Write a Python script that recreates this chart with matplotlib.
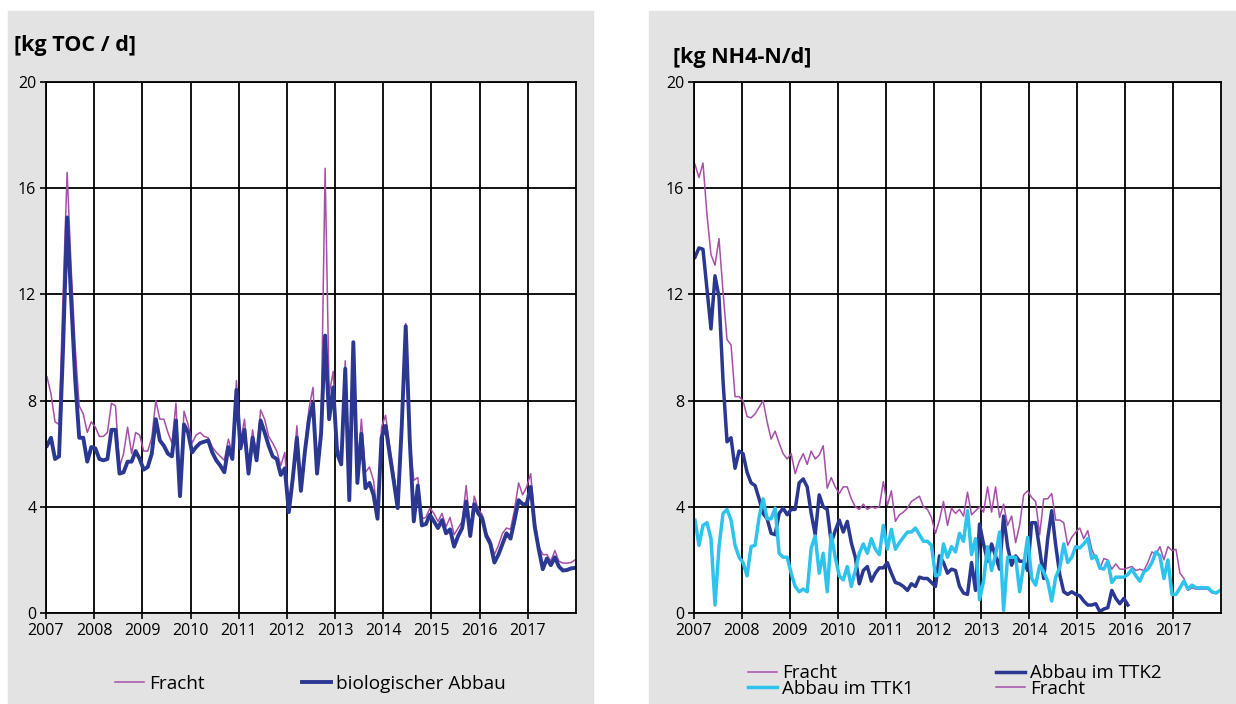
import matplotlib
matplotlib.use("Agg")
import matplotlib.pyplot as plt
from matplotlib.patches import Rectangle
import numpy as np

plt.rcParams['font.family'] = ['Open Sans', 'DejaVu Sans']

# monthly values Jan 2007 .. Dec 2017
toc_fracht = [
    8.9, 8.25, 7.2, 7.1, 12.0, 16.6, 13.0, 10.0, 7.8, 7.5, 6.8, 7.2,
    7.0, 6.65, 6.65, 6.8, 7.9, 7.8, 5.5, 6.0, 7.0, 6.0, 6.8, 6.7,
    6.1, 6.1, 6.6, 8.0, 7.3, 7.3, 6.8, 6.4, 7.9, 4.6, 7.6, 7.1,
    6.4, 6.7, 6.8, 6.65, 6.6, 6.25, 6.05, 5.9, 5.75, 6.55, 6.0, 8.75,
    6.4, 7.3, 5.4, 6.9, 5.9, 7.65, 7.3, 6.65, 6.4, 6.1, 5.55, 6.05,
    3.95, 5.3, 7.05, 4.8, 6.3, 7.7, 8.5, 5.4, 7.0, 16.75, 8.25, 9.1,
    6.25, 5.9, 9.5, 4.4, 10.2, 5.2, 7.3, 5.3, 5.5, 5.0, 3.7, 7.0,
    7.45, 6.3, 5.3, 4.1, 7.2, 10.9, 6.6, 5.0, 5.1, 3.55, 3.6, 3.95,
    3.75, 3.45, 3.75, 3.25, 3.6, 2.95, 3.2, 3.45, 4.8, 3.1, 4.4, 3.9,
    3.7, 3.0, 2.75, 2.2, 2.55, 3.0, 3.2, 3.15, 3.9, 4.9, 4.45, 4.75,
    5.25, 3.5, 2.5, 2.2, 2.2, 1.95, 2.35, 1.95, 1.88, 1.88, 1.9, 2.0,
]
toc_abbau = [
    6.3, 6.6, 5.8, 5.9, 10.0, 14.9, 11.8, 8.8, 6.6, 6.6, 5.7, 6.25,
    6.2, 5.8, 5.75, 5.8, 6.9, 6.9, 5.25, 5.3, 5.7, 5.7, 6.1, 5.8,
    5.4, 5.5, 6.0, 7.3, 6.5, 6.3, 6.0, 5.9, 7.25, 4.4, 7.1, 6.8,
    6.05, 6.25, 6.4, 6.45, 6.5, 6.05, 5.75, 5.55, 5.3, 6.25, 5.8, 8.4,
    6.2, 6.9, 5.25, 6.6, 5.75, 7.25, 6.8, 6.3, 5.9, 5.8, 5.2, 5.45,
    3.8, 5.1, 6.6, 4.6, 6.1, 7.3, 7.9, 5.25, 6.75, 10.45, 7.3, 8.5,
    6.0, 5.6, 9.2, 4.25, 10.2, 4.9, 6.75, 4.7, 4.9, 4.45, 3.55, 6.6,
    7.05, 6.0, 5.0, 3.95, 7.0, 10.8, 6.5, 3.45, 4.8, 3.3, 3.35, 3.7,
    3.45, 3.2, 3.5, 3.0, 3.15, 2.5, 2.9, 3.2, 4.2, 2.9, 4.1, 3.75,
    3.55, 2.9, 2.6, 1.9, 2.2, 2.6, 3.0, 2.8, 3.5, 4.25, 4.1, 4.1,
    4.75, 3.25, 2.4, 1.65, 2.05, 1.8, 2.1, 1.75, 1.6, 1.62, 1.68, 1.7,
]

nh4_fracht = [
    16.9, 16.4, 16.95, 15.0, 13.5, 13.1, 14.1, 12.1, 10.3, 10.1, 8.15, 8.15,
    8.0, 7.4, 7.35, 7.5, 7.75, 8.0, 7.2, 6.55, 6.85, 6.4, 6.0, 5.8,
    6.0, 5.25, 5.7, 6.0, 5.6, 6.1, 5.8, 5.95, 6.3, 4.7, 5.1, 4.75,
    4.5, 4.75, 4.75, 4.3, 4.0, 3.9, 4.1, 3.9, 4.0, 3.95, 4.0, 4.95,
    4.05, 4.6, 3.45, 3.7, 3.8, 3.95, 4.2, 4.3, 4.4, 4.0, 3.9, 3.6,
    3.0, 3.5, 4.2, 3.3, 3.95, 3.75, 3.9, 3.65, 4.55, 3.7, 3.85, 4.0,
    3.8, 4.75, 3.8, 4.75, 3.6, 4.1, 3.3, 3.65, 2.65, 3.3, 4.45, 4.6,
    4.35, 4.2, 2.95, 4.3, 4.3, 4.5, 3.5, 3.5, 3.4, 2.55, 2.85, 3.05,
    3.2, 2.8, 3.1, 2.4, 2.05, 1.65, 2.05, 2.0, 1.65, 1.85, 1.65, 1.65,
    1.7, 1.75, 1.6, 1.65, 1.6, 1.9, 2.3, 2.2, 2.5, 2.0, 2.5, 2.35,
    2.4, 1.5, 1.3, 0.85, 0.95, 0.9, 0.9, 0.9, 0.9, 0.75, 0.78, 0.85,
]
# TTK2 runs Jan 2007 .. Jan 2016
nh4_ttk2 = [
    13.4, 13.75, 13.7, 12.2, 10.7, 12.7, 11.9, 8.75, 6.45, 6.6, 5.45, 6.1,
    6.0, 5.3, 4.9, 4.8, 4.3, 3.75, 3.55, 3.0, 2.95, 3.75, 3.95, 3.7,
    3.9, 3.9, 4.9, 5.05, 4.75, 3.75, 2.95, 4.45, 4.0, 3.9, 2.65, 3.1,
    3.5, 3.05, 3.45, 2.65, 2.1, 1.1, 1.6, 1.75, 1.2, 1.5, 1.7, 1.7,
    1.9, 1.5, 1.15, 1.1, 1.0, 0.85, 1.1, 1.0, 1.35, 1.3, 1.3, 1.15,
    1.0, 2.15, 1.9, 1.5, 1.65, 1.6, 1.0, 0.75, 0.7, 1.9, 0.85, 3.35,
    2.6, 1.95, 2.6, 2.15, 1.65, 3.65, 2.5, 1.8, 2.15, 1.95, 1.95, 1.6,
    3.4, 3.4, 2.4, 1.3, 2.8, 3.85, 2.55, 1.45, 0.8, 0.7, 0.8, 0.7,
    0.65, 0.45, 0.3, 0.3, 0.35, 0.05, 0.15, 0.2, 0.85, 0.55, 0.35, 0.55,
    0.3,
]
nh4_ttk1 = [
    3.5, 2.55, 3.3, 3.4, 2.8, 0.3, 2.5, 3.75, 3.9, 3.5, 2.55, 2.1,
    1.9, 1.4, 2.5, 2.55, 3.6, 4.3, 3.55, 3.55, 3.95, 2.25, 2.1, 2.1,
    1.5, 1.0, 0.8, 0.9, 0.8, 2.45, 2.9, 1.5, 2.25, 0.8, 2.95, 2.1,
    1.4, 1.25, 1.75, 1.0, 1.6, 2.25, 2.6, 2.25, 2.8, 2.4, 2.2, 3.3,
    2.4, 3.15, 2.4, 2.65, 2.85, 3.05, 3.05, 3.2, 2.95, 2.7, 2.7, 2.55,
    1.4, 1.45, 2.6, 2.1, 2.5, 2.3, 3.0, 2.7, 3.85, 2.2, 2.8, 0.5,
    1.2, 2.5, 1.6, 2.2, 3.05, 0.1, 2.1, 2.1, 2.1, 0.8, 1.8, 2.85,
    1.3, 1.05, 1.8, 1.55, 1.2, 0.45, 1.35, 1.7, 2.6, 1.9, 2.1, 2.5,
    2.45, 2.6, 2.8, 2.05, 2.15, 1.7, 1.65, 1.95, 1.15, 1.35, 1.35, 1.35,
    1.45, 1.65, 1.4, 1.2, 1.55, 1.65, 1.9, 2.3, 2.15, 1.3, 2.0, 0.7,
    0.7, 0.95, 1.2, 0.9, 1.05, 0.95, 0.95, 0.95, 0.95, 0.8, 0.75, 0.85,
]

years = list(range(2007, 2018))
yticks = [0, 4, 8, 12, 16, 20]

t = np.linspace(2007.02, 2017.98, len(toc_fracht))

C_FRACHT = '#a64fa8'
C_NAVY = '#2b3892'
C_CYAN = '#2ec3ec'
BG = '#e3e3e3'

fig = plt.figure(figsize=(12.36, 7.04), dpi=100)
fig.patch.set_facecolor('white')
W, H = 1236, 704
# grey panel behind each chart
fig.patches.append(Rectangle((8 / W, 0), 585 / W, 1 - 11 / H,
                             transform=fig.transFigure, color=BG, zorder=-5))
fig.patches.append(Rectangle((649 / W, 0), 587 / W, 1 - 11 / H,
                             transform=fig.transFigure, color=BG, zorder=-5))


def setup(ax):
    ax.set_facecolor('white')
    ax.set_xlim(2007, 2018)
    ax.set_ylim(0, 20)
    ax.set_xticks(years)
    ax.set_yticks(yticks)
    ax.grid(True, color='black', linewidth=1.3)
    ax.set_axisbelow(True)
    for s in ax.spines.values():
        s.set_color('black')
        s.set_linewidth(1.3)
    ax.tick_params(axis='both', direction='out', length=4, width=1.2,
                   labelsize=11.5, color='black', pad=3)


ax1 = fig.add_axes([46 / W, 1 - 613 / H, 530 / W, 531 / H])
setup(ax1)
l1, = ax1.plot(t, toc_fracht, color=C_FRACHT, lw=1.1, label='Fracht')
l2, = ax1.plot(t, toc_abbau, color=C_NAVY, lw=2.8, label='biologischer Abbau')
fig.text(14 / W, 1 - 45 / H, '[kg TOC / d]', fontsize=15.5, fontweight='bold',
         va='center', ha='left')
fig.legend(handles=[l1, l2], ncol=2, loc='center left',
           bbox_to_anchor=(115 / W, 1 - 684 / H), frameon=False,
           borderpad=0, borderaxespad=0,
           fontsize=13.7, handlelength=1.55, handletextpad=0.25,
           columnspacing=5.1)

ax2 = fig.add_axes([694 / W, 1 - 613 / H, 527 / W, 531 / H])
setup(ax2)
r1, = ax2.plot(t, nh4_fracht, color=C_FRACHT, lw=1.1, label='Fracht')
r2, = ax2.plot(t[:len(nh4_ttk2)], nh4_ttk2, color=C_NAVY, lw=2.5,
               label='Abbau im TTK2')
r3, = ax2.plot(t, nh4_ttk1, color=C_CYAN, lw=2.5, label='Abbau im TTK1')
fig.text(673 / W, 1 - 57 / H, '[kg NH4-N/d]', fontsize=15.5, fontweight='bold',
         va='center', ha='left')
fig.legend(handles=[r1, r3, r2, r1],
           labels=['Fracht', 'Abbau im TTK1', 'Abbau im TTK2', 'Fracht'],
           ncol=2, loc='center left', bbox_to_anchor=(748 / W, 1 - 681 / H),
           frameon=False, borderpad=0, borderaxespad=0,
           fontsize=13.5, handlelength=1.55, handletextpad=0.25,
           columnspacing=4.4, labelspacing=-0.15)

fig.savefig('out.png', dpi=100, facecolor=fig.get_facecolor())
